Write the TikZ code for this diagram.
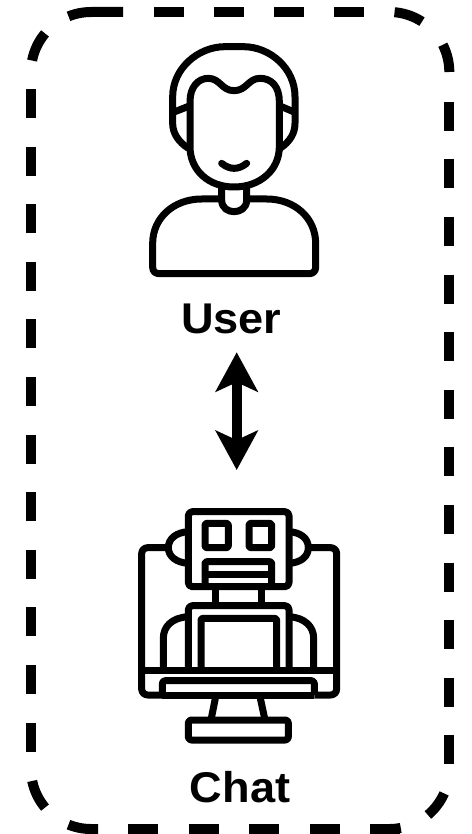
\documentclass[tikz,border=0pt]{standalone}
\usepackage{fontspec}
\setmainfont{Liberation Sans}
\usetikzlibrary{arrows.meta}
\tikzset{
  borderline/.style={line width=10pt,line cap=butt,black},
  icon/.style={line width=7pt,line join=round,line cap=butt,black},
  label/.style={font=\fontsize{43}{43}\selectfont\bfseries,inner sep=0pt,anchor=base,xscale=1.05,transform shape},
  twohead/.style={{Stealth[length=39.3pt,width=42pt,inset=9.4pt]}-{Stealth[length=39.3pt,width=42pt,inset=9.4pt]},line width=10pt,black}
}
\newcommand{\cornerarc}[4]{\draw[borderline] plot[domain=#3:#4,samples=14,smooth] ({#1+60*cos(\x)},{#2+60*sin(\x)});}
\begin{document}
\begin{tikzpicture}[x=1pt,y=-1pt]
\useasboundingbox (0,0) rectangle (471,834);
% dashed border
\foreach \n in {0,...,11} {
  \draw[borderline] (31,{89+57.6*\n}) -- (31,{118+57.6*\n});
  \draw[borderline] (449.3,{101.7+57.6*\n}) -- (449.3,{130.7+57.6*\n});
}
\foreach \n in {0,...,3} {
  \draw[borderline] ({154+60*\n},12) -- ({183.5+60*\n},12);
}
\foreach \n in {0,...,4} {
  \draw[borderline] ({128+60.5*\n},829) -- ({158+60.5*\n},829);
}
\draw[borderline] plot[domain=248:270,samples=8,smooth] ({91+60*cos(\x)},{72+60*sin(\x)}) -- (123,12);
\cornerarc{91}{72}{191}{220}
\cornerarc{389.3}{72}{275}{303}
\cornerarc{389.3}{72}{333}{360}
\cornerarc{389.3}{769}{24}{50}
\draw[borderline] plot[domain=79:90,samples=6,smooth] ({389.3+60*cos(\x)},{769+60*sin(\x)}) -- (370,829);
\draw[borderline] plot[domain=112:90,samples=8,smooth] ({91+60*cos(\x)},{769+60*sin(\x)}) -- (98,829);
\cornerarc{91}{769}{140}{168.5}
% user icon
\begin{scope}[shift={(130,30)},scale=1/3,icon]
  \draw (175,355) .. controls (145,335) and (128,310) .. (128,280) -- (128,200) .. controls (128,115) and (205,50) .. (285,50) -- (340,50) .. controls (420,50) and (495,115) .. (495,200) -- (495,280) .. controls (495,310) and (480,335) .. (450,355);
  \draw (135,245) -- (178,228);
  \draw (490,245) -- (450,228);
  \draw (180,215) .. controls (180,170) and (205,145) .. (235,145) .. controls (270,145) and (275,182) .. (312,182) .. controls (350,182) and (355,145) .. (390,145) .. controls (425,145) and (448,170) .. (448,215) -- (448,350) .. controls (448,420) and (390,471) .. (312,471) .. controls (235,471) and (180,420) .. (180,350) -- cycle;
  \draw[line cap=round] (275,400) .. controls (300,420) and (325,420) .. (350,400);
  \draw (275,470) -- (275,510) .. controls (275,535) and (295,545) .. (312,545) .. controls (330,545) and (350,535) .. (350,510) -- (350,470);
  \draw (275,507) -- (215,507) .. controls (130,507) and (68,565) .. (68,640) -- (68,712) .. controls (68,724) and (76,731) .. (88,731) -- (537,731) .. controls (549,731) and (557,724) .. (557,712) -- (557,640) .. controls (557,565) and (495,507) .. (410,507) -- (350,507);
\end{scope}
% robot icon
\begin{scope}[shift={(125,495)},scale=1/3,icon]
  \draw[rounded corners=4pt] (190,50) rectangle (492,275);
  \draw[rounded corners=2pt] (240,85) rectangle (310,158);
  \draw[rounded corners=2pt] (372,85) rectangle (440,158);
  \draw[rounded corners=2pt] (240,275) -- (240,200) -- (440,200) -- (440,275);
  \draw (240,237) -- (440,237);
  \draw (190,110) .. controls (155,112) and (130,130) .. (130,158) .. controls (130,185) and (155,203) .. (190,205);
  \draw (492,110) .. controls (527,112) and (550,130) .. (550,158) .. controls (550,185) and (527,203) .. (492,205);
  \draw[rounded corners=6pt] (130,158) -- (50,158) -- (50,600) -- (112,600);
  \draw[rounded corners=6pt] (550,158) -- (635,158) -- (635,600) -- (568,600);
  \draw (50,525) -- (635,525);
  \draw[rounded corners=3pt] (112,600) -- (112,557) -- (568,557) -- (568,600);
  \draw (112,600) -- (568,600);
  \draw (272,275) -- (272,330);
  \draw (410,275) -- (410,330);
  \draw[rounded corners=4pt] (190,525) -- (190,332) -- (492,332) -- (492,525);
  \draw[rounded corners=2pt] (228,525) -- (228,370) -- (455,370) -- (455,525);
  \draw (190,365) .. controls (140,368) and (115,395) .. (115,430) -- (115,525);
  \draw (492,365) .. controls (540,368) and (566,395) .. (566,430) -- (566,525);
  \draw (272,605) -- (258,675);
  \draw (405,605) -- (420,675);
  \draw[rounded corners=3pt] (190,675) rectangle (490,735);
\end{scope}
% labels and arrow
\node[label] (user) at (231.2,333) {User};
\node[label] (chat) at (240,802.7) {Chat};
\coordinate (arrowtop) at (236.7,352.3);
\coordinate (arrowbot) at (236.7,470);
\draw[twohead] (arrowtop) -- (arrowbot);
\end{tikzpicture}
\end{document}
